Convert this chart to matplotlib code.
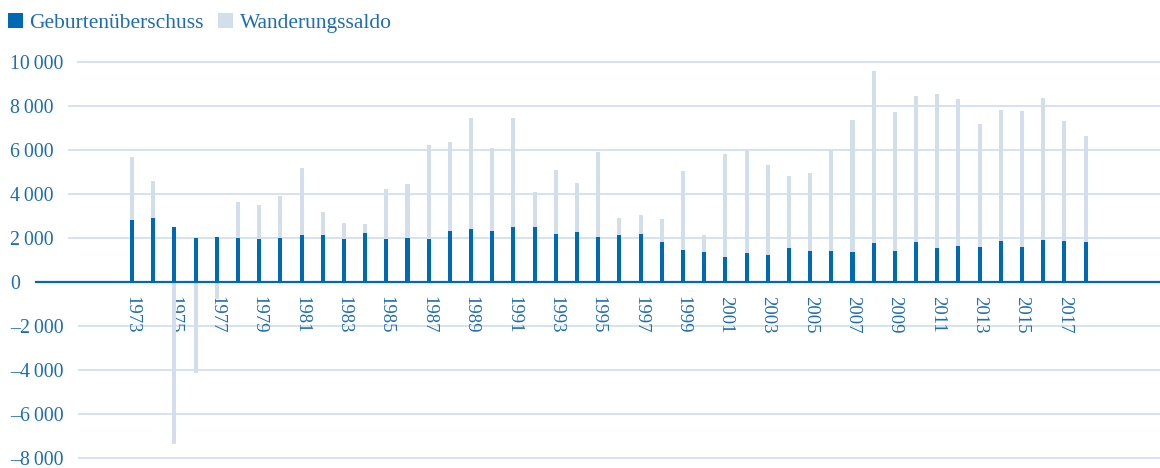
import numpy as np
import matplotlib
matplotlib.use("Agg")
import matplotlib.pyplot as plt
from matplotlib.patches import Patch

years = list(range(1973, 2019))
geburten = [2800, 2900, 2490, 1990, 2030, 1990, 1940, 1990, 2120, 2120,
            1940, 2210, 1940, 1990, 1940, 2300, 2400, 2300, 2490, 2490,
            2170, 2260, 2030, 2120, 2170, 1800, 1440, 1350, 1120, 1300,
            1210, 1530, 1400, 1400, 1350, 1760, 1400, 1800, 1530, 1620,
            1580, 1850, 1580, 1900, 1850, 1800]
wanderung = [2870, 1680, -7360, -4140, -800, 1630, 1550, 1910, 3050, 1050,
             730, 410, 2270, 2450, 4270, 4050, 5040, 3780, 4950, 1590,
             2910, 2230, 3870, 780, 860, 1050, 3590, 770, 4680, 4690,
             4090, 3270, 3540, 4590, 6000, 7820, 6310, 6640, 7000, 6680,
             5590, 5950, 6180, 6450, 5450, 4820]
y_ticks = [10000, 8000, 6000, 4000, 2000, 0, -2000, -4000, -6000, -8000]
x_tick_years = list(range(1973, 2018, 2))
series_names = ["Geburtenüberschuss", "Wanderungssaldo"]

DARK = "#0069b4"
LIGHT = "#d2dfea"
TEXT = "#1f6db0"
FONT = ["Liberation Serif", "DejaVu Serif"]
plt.rcParams["font.family"] = FONT

W, H = 1160, 468
fig = plt.figure(figsize=(W / 100, H / 100), dpi=100)
ax_left, ax_right, ax_top, ax_bot = 36, 1160, 55, 465
ax = fig.add_axes([ax_left / W, 1 - ax_bot / H, (ax_right - ax_left) / W, (ax_bot - ax_top) / H])

x = np.array(years, dtype=float)
g = np.array(geburten, dtype=float)
w = np.array(wanderung, dtype=float)
bottoms = np.where(w >= 0, g, 0)

bw = 0.19
ax.bar(x, g, width=bw, color=DARK, zorder=2, linewidth=0)
ax.bar(x, w, width=bw, bottom=bottoms, color=LIGHT, zorder=2, linewidth=0)

ax.set_xlim(1968.47, 2021.51)
ax.set_ylim(-8331, 10304)

for s in ["top", "right", "left"]:
    ax.spines[s].set_visible(False)
ax.spines["bottom"].set_position(("data", 0))
ax.spines["bottom"].set_color(DARK)
ax.spines["bottom"].set_linewidth(1.6)
ax.spines["bottom"].set_zorder(3)

ax.set_xticks(x_tick_years)
ax.set_xticklabels([str(v) for v in x_tick_years], rotation=-90, fontsize=13.5, color=TEXT)
ax.tick_params(axis="x", length=0, pad=10.5)

def fmt(v):
    s = f"{abs(v):,}".replace(",", "\u2009")
    return ("\u2013" if v < 0 else "") + s

ax.set_yticks(y_ticks)
ax.set_yticklabels([fmt(v) for v in y_ticks], fontsize=14.3, color=TEXT)
ax.tick_params(axis="y", length=0, pad=(ax_left - 10) * 0.72)
for lbl in ax.get_yticklabels():
    lbl.set_horizontalalignment("left")

fig.canvas.draw()
renderer = fig.canvas.get_renderer()
ax_bb = ax.get_window_extent(renderer)
for val, lbl in zip(y_ticks, ax.get_yticklabels()):
    if val == 0:
        continue
    bb = lbl.get_window_extent(renderer)
    frac = (bb.x1 + 15 - ax_bb.x0) / ax_bb.width
    ax.axhline(val, xmin=frac, xmax=1, color=LIGHT, linewidth=1.3, zorder=1)

handles = [Patch(facecolor=DARK, edgecolor="none"), Patch(facecolor=LIGHT, edgecolor="none")]
leg = fig.legend(handles, series_names, loc="upper left", bbox_to_anchor=(8 / W, 1 - 13 / H),
                 ncol=2, frameon=False, fontsize=15.5, handlelength=0.7, handleheight=0.7,
                 handletextpad=0.3, columnspacing=0.65, borderpad=0, borderaxespad=0)
for t in leg.get_texts():
    t.set_color(TEXT)

fig.savefig("out.png", dpi=100)
